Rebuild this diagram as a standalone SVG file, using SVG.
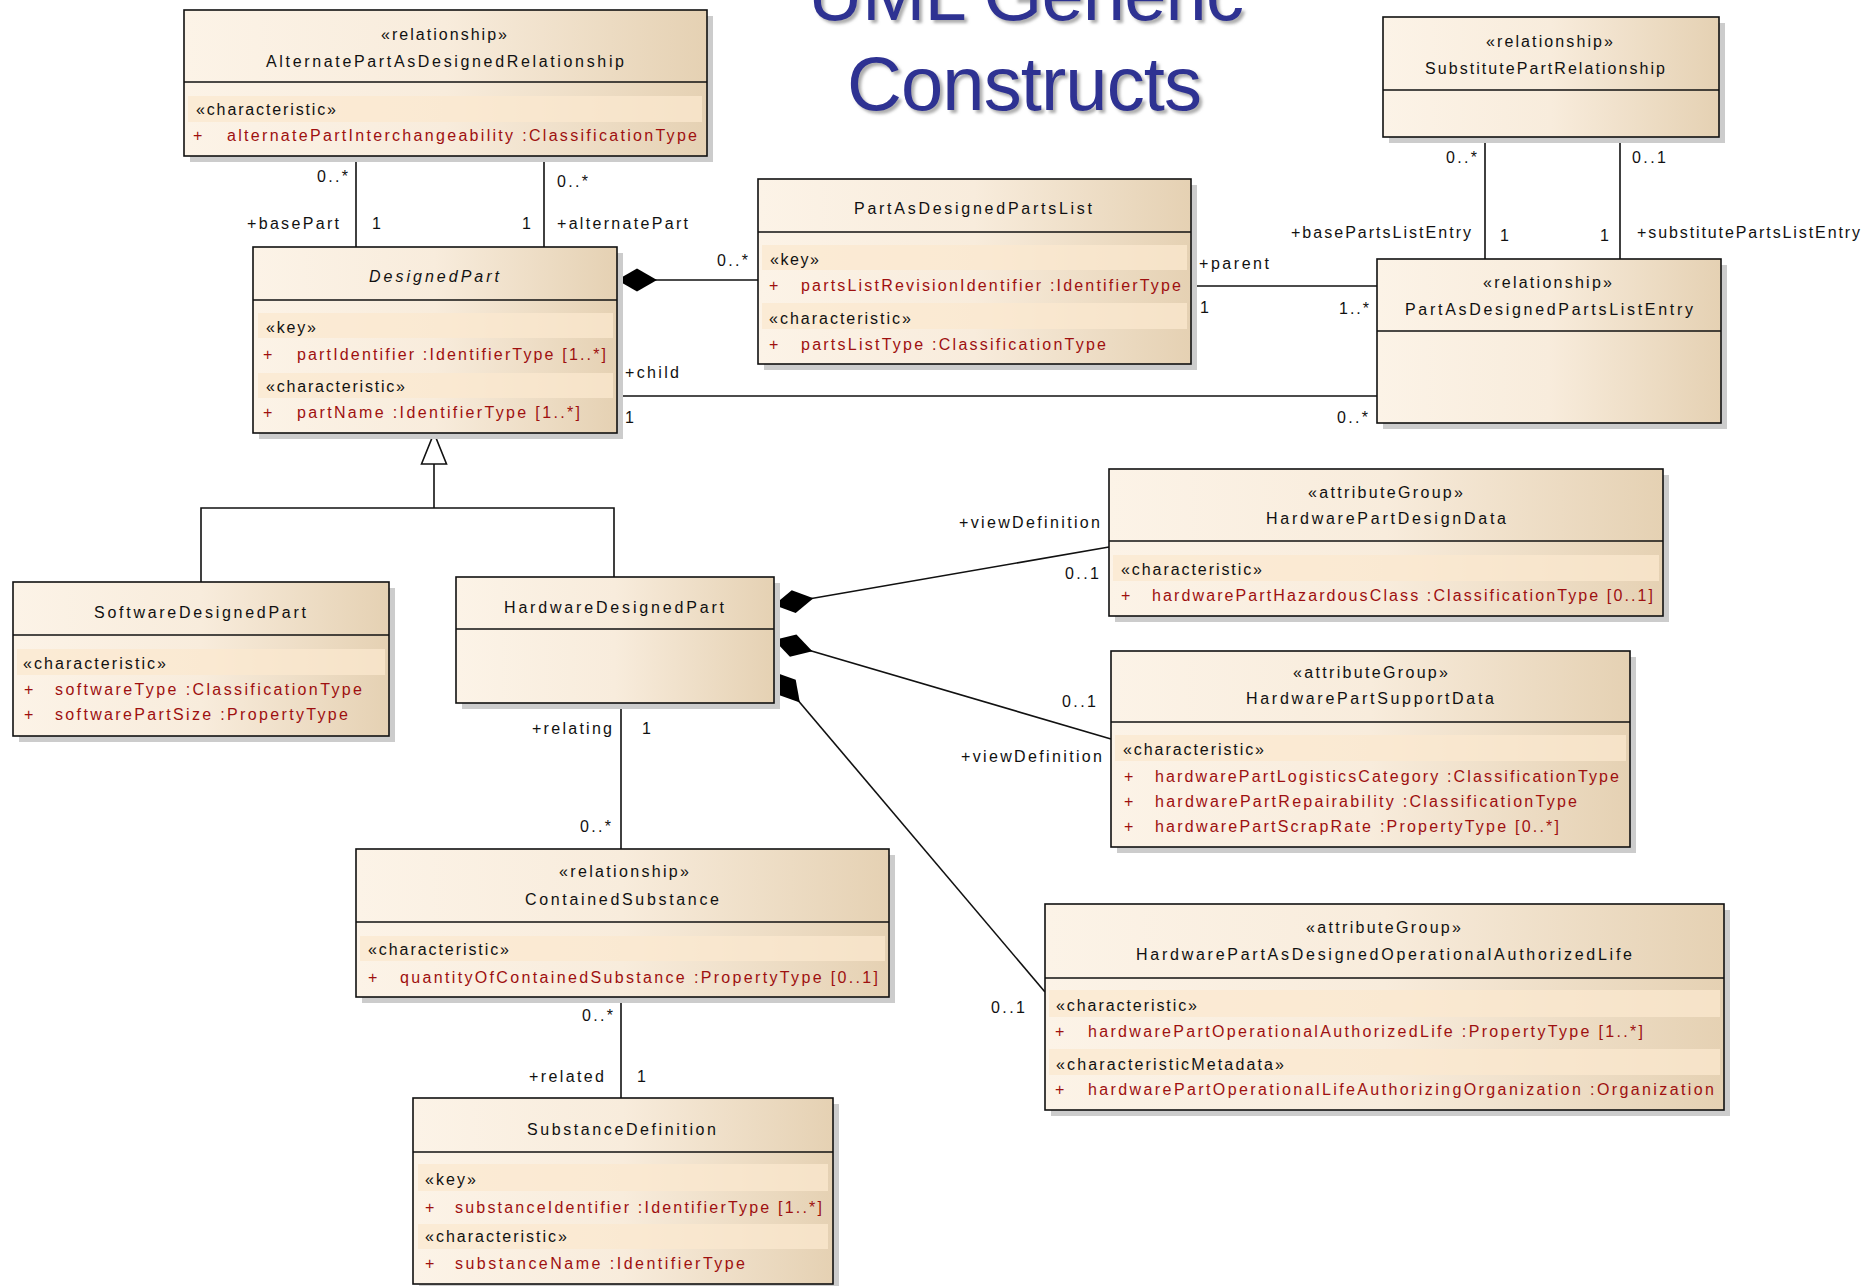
<svg xmlns="http://www.w3.org/2000/svg" width="1863" height="1286" viewBox="0 0 1863 1286">
<defs>
  <linearGradient id="fillg" x1="0" y1="0" x2="1" y2="0">
    <stop offset="0" stop-color="#FCF3E7"/>
    <stop offset="0.5" stop-color="#F8ECDC"/>
    <stop offset="1" stop-color="#E5D1B3"/>
  </linearGradient>
  <filter id="tshadow" x="-10%" y="-20%" width="120%" height="150%">
    <feDropShadow dx="3" dy="3" stdDeviation="1.5" flood-color="#777" flood-opacity="0.6"/>
  </filter>
  <marker id="dia" viewBox="0 -12 42 24" refX="0" refY="0" markerWidth="42" markerHeight="24" markerUnits="userSpaceOnUse" orient="auto">
    <path d="M0,0 L20,-11.5 L40,0 L20,11.5 Z" fill="#000"/>
  </marker>
  <marker id="tri" viewBox="0 -14 34 28" refX="32" refY="0" markerWidth="34" markerHeight="28" markerUnits="userSpaceOnUse" orient="auto">
    <path d="M1,-12.5 L32,0 L1,12.5 Z" fill="#fff" stroke="#111" stroke-width="1.6"/>
  </marker>
</defs>
<style>
  .sh{fill:#cccccc}
  .box{fill:url(#fillg);stroke:#111;stroke-width:1.6}
  .dv{stroke:#111;stroke-width:1.6}
  .band{fill:#FBE8CF;opacity:0.75}
  .t{font-family:"Liberation Sans",Arial,sans-serif;font-size:16px;fill:#111}
  .a{fill:#9E1010}
  .it{font-style:italic}
  .c{stroke:#111;stroke-width:1.6;fill:none}
  .title{font-family:"Liberation Sans",Arial,sans-serif;font-size:76px;fill:#2E3192;filter:url(#tshadow)}
</style>
<rect width="1863" height="1286" fill="#fff"/>

<g id="title">
  <text class="title" x="808" y="20" textLength="436">UML Generic</text>
  <text class="title" x="847" y="110" textLength="355">Constructs</text>
</g>

<g id="connectors">
  <path class="c" d="M356,156 V247"/>
  <path class="c" d="M544,156 V247"/>
  <path class="c" d="M617,280 H758" marker-start="url(#dia)"/>
  <path class="c" d="M1191,286 H1377"/>
  <path class="c" d="M617,396 H1377"/>
  <path class="c" d="M1485,137 V259"/>
  <path class="c" d="M1620,137 V259"/>
  <path class="c" d="M201,582 V508 H614 V577"/>
  <path class="c" d="M434,508 V433" marker-end="url(#tri)"/>
  <path class="c" d="M774,605 L1109,547" marker-start="url(#dia)"/>
  <path class="c" d="M774,640 L1111,739" marker-start="url(#dia)"/>
  <path class="c" d="M774,672 L1045,992" marker-start="url(#dia)"/>
  <path class="c" d="M621,703 V849"/>
  <path class="c" d="M621,997 V1098"/>
  <g id="connector-labels" class="t">
    <text x="317" y="182" textLength="31">0..*</text>
    <text x="247" y="229" textLength="92">+basePart</text>
    <text x="372" y="229">1</text>
    <text x="522" y="229">1</text>
    <text x="557" y="187" textLength="31">0..*</text>
    <text x="557" y="229" textLength="131">+alternatePart</text>
    <text x="717" y="266" textLength="31">0..*</text>
    <text x="1199" y="269" textLength="70">+parent</text>
    <text x="1200" y="313">1</text>
    <text x="1339" y="314" textLength="30">1..*</text>
    <text x="625" y="378" textLength="54">+child</text>
    <text x="625" y="423">1</text>
    <text x="1337" y="423" textLength="31">0..*</text>
    <text x="1446" y="163" textLength="31">0..*</text>
    <text x="1632" y="163" textLength="34">0..1</text>
    <text x="1291" y="238" textLength="180">+basePartsListEntry</text>
    <text x="1500" y="241">1</text>
    <text x="1600" y="241">1</text>
    <text x="1637" y="238" textLength="223">+substitutePartsListEntry</text>
    <text x="959" y="528" textLength="141">+viewDefinition</text>
    <text x="1065" y="579" textLength="34">0..1</text>
    <text x="1062" y="707" textLength="34">0..1</text>
    <text x="961" y="762" textLength="141">+viewDefinition</text>
    <text x="991" y="1013" textLength="34">0..1</text>
    <text x="532" y="734" textLength="80">+relating</text>
    <text x="642" y="734">1</text>
    <text x="580" y="832" textLength="31">0..*</text>
    <text x="582" y="1021" textLength="31">0..*</text>
    <text x="529" y="1082" textLength="75">+related</text>
    <text x="637" y="1082">1</text>
  </g>
</g>

<g id="AlternatePartAsDesignedRelationship">
  <rect class="sh" x="190" y="16" width="523" height="146"/>
  <rect class="box" x="184" y="10" width="523" height="146"/>
  <line class="dv" x1="184" y1="82" x2="707" y2="82"/>
  <rect class="band" x="188" y="96" width="514" height="26"/>
  <text class="t" x="381" y="40" textLength="126">«relationship»</text>
  <text class="t" x="266" y="67" textLength="358">AlternatePartAsDesignedRelationship</text>
  <text class="t" x="196" y="115" textLength="140">«characteristic»</text>
  <text class="t a" x="193" y="141">+</text>
  <text class="t a" x="227" y="141" textLength="470">alternatePartInterchangeability  :ClassificationType</text>
</g>

<g id="DesignedPart">
  <rect class="sh" x="259" y="253" width="364" height="186"/>
  <rect class="box" x="253" y="247" width="364" height="186"/>
  <line class="dv" x1="253" y1="300" x2="617" y2="300"/>
  <rect class="band" x="258" y="313" width="355" height="25"/>
  <rect class="band" x="258" y="373" width="355" height="25"/>
  <text class="t it" x="369" y="282" textLength="130">DesignedPart</text>
  <text class="t" x="266" y="333" textLength="50">«key»</text>
  <text class="t a" x="263" y="360">+</text>
  <text class="t a" x="297" y="360" textLength="309">partIdentifier  :IdentifierType [1..*]</text>
  <text class="t" x="266" y="392" textLength="139">«characteristic»</text>
  <text class="t a" x="263" y="418">+</text>
  <text class="t a" x="297" y="418" textLength="283">partName  :IdentifierType [1..*]</text>
</g>

<g id="PartAsDesignedPartsList">
  <rect class="sh" x="764" y="185" width="433" height="185"/>
  <rect class="box" x="758" y="179" width="433" height="185"/>
  <line class="dv" x1="758" y1="232" x2="1191" y2="232"/>
  <rect class="band" x="762" y="245" width="425" height="25"/>
  <rect class="band" x="762" y="303" width="425" height="26"/>
  <text class="t" x="854" y="214" textLength="238">PartAsDesignedPartsList</text>
  <text class="t" x="770" y="265" textLength="49">«key»</text>
  <text class="t a" x="769" y="291">+</text>
  <text class="t a" x="801" y="291" textLength="380">partsListRevisionIdentifier  :IdentifierType</text>
  <text class="t" x="769" y="324" textLength="142">«characteristic»</text>
  <text class="t a" x="769" y="350">+</text>
  <text class="t a" x="801" y="350" textLength="305">partsListType  :ClassificationType</text>
</g>

<g id="SubstitutePartRelationship">
  <rect class="sh" x="1389" y="23" width="336" height="120"/>
  <rect class="box" x="1383" y="17" width="336" height="120"/>
  <line class="dv" x1="1383" y1="90" x2="1719" y2="90"/>
  <text class="t" x="1486" y="47" textLength="127">«relationship»</text>
  <text class="t" x="1425" y="74" textLength="240">SubstitutePartRelationship</text>
</g>

<g id="PartAsDesignedPartsListEntry">
  <rect class="sh" x="1383" y="265" width="344" height="164"/>
  <rect class="box" x="1377" y="259" width="344" height="164"/>
  <line class="dv" x1="1377" y1="331" x2="1721" y2="331"/>
  <text class="t" x="1483" y="288" textLength="129">«relationship»</text>
  <text class="t" x="1405" y="315" textLength="288">PartAsDesignedPartsListEntry</text>
</g>

<g id="SoftwareDesignedPart">
  <rect class="sh" x="19" y="588" width="376" height="154"/>
  <rect class="box" x="13" y="582" width="376" height="154"/>
  <line class="dv" x1="13" y1="635" x2="389" y2="635"/>
  <rect class="band" x="17" y="649" width="368" height="26"/>
  <text class="t" x="94" y="618" textLength="212">SoftwareDesignedPart</text>
  <text class="t" x="23" y="669" textLength="143">«characteristic»</text>
  <text class="t a" x="24" y="695">+</text>
  <text class="t a" x="55" y="695" textLength="307">softwareType  :ClassificationType</text>
  <text class="t a" x="24" y="720">+</text>
  <text class="t a" x="55" y="720" textLength="293">softwarePartSize  :PropertyType</text>
</g>

<g id="HardwareDesignedPart">
  <rect class="sh" x="462" y="583" width="318" height="126"/>
  <rect class="box" x="456" y="577" width="318" height="126"/>
  <line class="dv" x1="456" y1="629" x2="774" y2="629"/>
  <text class="t" x="504" y="613" textLength="220">HardwareDesignedPart</text>
</g>

<g id="HardwarePartDesignData">
  <rect class="sh" x="1115" y="475" width="554" height="147"/>
  <rect class="box" x="1109" y="469" width="554" height="147"/>
  <line class="dv" x1="1109" y1="541" x2="1663" y2="541"/>
  <rect class="band" x="1113" y="555" width="546" height="26"/>
  <text class="t" x="1308" y="498" textLength="155">«attributeGroup»</text>
  <text class="t" x="1266" y="524" textLength="240">HardwarePartDesignData</text>
  <text class="t" x="1121" y="575" textLength="141">«characteristic»</text>
  <text class="t a" x="1121" y="601">+</text>
  <text class="t a" x="1152" y="601" textLength="501">hardwarePartHazardousClass  :ClassificationType [0..1]</text>
</g>

<g id="HardwarePartSupportData">
  <rect class="sh" x="1117" y="657" width="519" height="196"/>
  <rect class="box" x="1111" y="651" width="519" height="196"/>
  <line class="dv" x1="1111" y1="722" x2="1630" y2="722"/>
  <rect class="band" x="1115" y="735" width="511" height="26"/>
  <text class="t" x="1293" y="678" textLength="155">«attributeGroup»</text>
  <text class="t" x="1246" y="704" textLength="248">HardwarePartSupportData</text>
  <text class="t" x="1123" y="755" textLength="141">«characteristic»</text>
  <text class="t a" x="1124" y="782">+</text>
  <text class="t a" x="1155" y="782" textLength="464">hardwarePartLogisticsCategory  :ClassificationType</text>
  <text class="t a" x="1124" y="807">+</text>
  <text class="t a" x="1155" y="807" textLength="422">hardwarePartRepairability  :ClassificationType</text>
  <text class="t a" x="1124" y="832">+</text>
  <text class="t a" x="1155" y="832" textLength="404">hardwarePartScrapRate  :PropertyType [0..*]</text>
</g>

<g id="ContainedSubstance">
  <rect class="sh" x="362" y="855" width="533" height="148"/>
  <rect class="box" x="356" y="849" width="533" height="148"/>
  <line class="dv" x1="356" y1="922" x2="889" y2="922"/>
  <rect class="band" x="360" y="936" width="525" height="25"/>
  <text class="t" x="559" y="877" textLength="130">«relationship»</text>
  <text class="t" x="525" y="905" textLength="194">ContainedSubstance</text>
  <text class="t" x="368" y="955" textLength="141">«characteristic»</text>
  <text class="t a" x="368" y="983">+</text>
  <text class="t a" x="400" y="983" textLength="478">quantityOfContainedSubstance  :PropertyType [0..1]</text>
</g>

<g id="HardwarePartAsDesignedOperationalAuthorizedLife">
  <rect class="sh" x="1051" y="910" width="679" height="206"/>
  <rect class="box" x="1045" y="904" width="679" height="206"/>
  <line class="dv" x1="1045" y1="978" x2="1724" y2="978"/>
  <rect class="band" x="1049" y="990" width="671" height="27"/>
  <rect class="band" x="1049" y="1049" width="671" height="26"/>
  <text class="t" x="1306" y="933" textLength="155">«attributeGroup»</text>
  <text class="t" x="1136" y="960" textLength="496">HardwarePartAsDesignedOperationalAuthorizedLife</text>
  <text class="t" x="1056" y="1011" textLength="141">«characteristic»</text>
  <text class="t a" x="1055" y="1037">+</text>
  <text class="t a" x="1088" y="1037" textLength="555">hardwarePartOperationalAuthorizedLife  :PropertyType [1..*]</text>
  <text class="t" x="1056" y="1070" textLength="228">«characteristicMetadata»</text>
  <text class="t a" x="1055" y="1095">+</text>
  <text class="t a" x="1088" y="1095" textLength="626">hardwarePartOperationalLifeAuthorizingOrganization  :Organization</text>
</g>

<g id="SubstanceDefinition">
  <rect class="sh" x="419" y="1104" width="420" height="186"/>
  <rect class="box" x="413" y="1098" width="420" height="186"/>
  <line class="dv" x1="413" y1="1152" x2="833" y2="1152"/>
  <rect class="band" x="418" y="1164" width="410" height="27"/>
  <rect class="band" x="418" y="1224" width="410" height="25"/>
  <text class="t" x="527" y="1135" textLength="189">SubstanceDefinition</text>
  <text class="t" x="425" y="1185" textLength="51">«key»</text>
  <text class="t a" x="425" y="1213">+</text>
  <text class="t a" x="455" y="1213" textLength="367">substanceIdentifier  :IdentifierType [1..*]</text>
  <text class="t" x="425" y="1242" textLength="142">«characteristic»</text>
  <text class="t a" x="425" y="1269">+</text>
  <text class="t a" x="455" y="1269" textLength="290">substanceName  :IdentifierType</text>
</g>
</svg>
